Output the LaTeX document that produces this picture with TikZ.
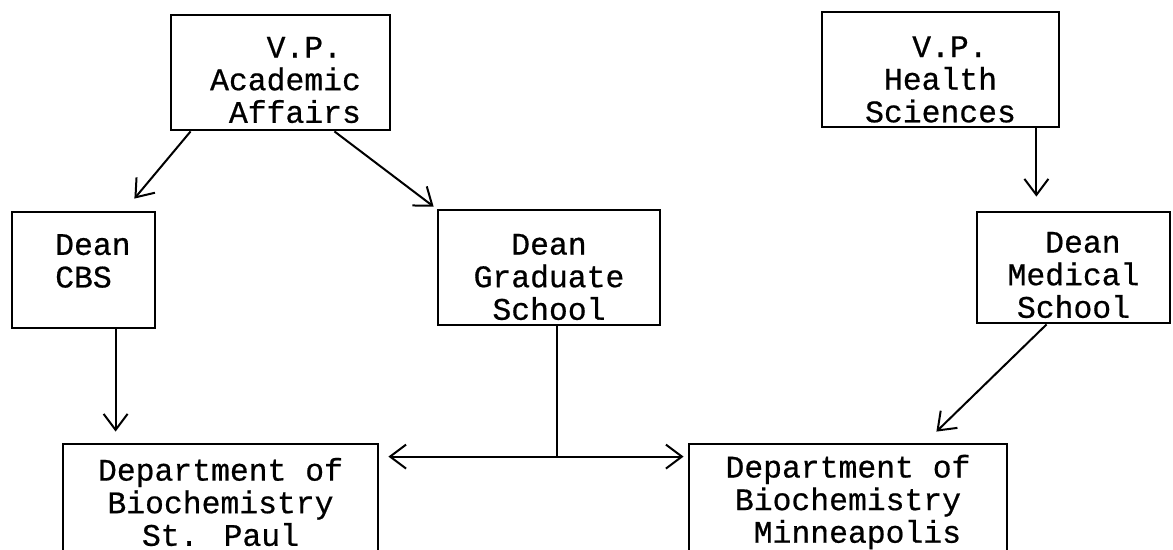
\documentclass[tikz,border=0pt]{standalone}
\usepackage{fontspec}
\newfontfamily\typefont[FakeBold=0.6]{Liberation Mono}
\usepackage{tikz}
\usetikzlibrary{arrows.meta,calc}

\begin{document}
\begin{tikzpicture}[x=0.5pt,y=-0.5pt,
  font=\typefont\fontsize{15.7}{16.3}\selectfont,
  box/.style={draw,line width=1.4pt,inner sep=0pt},
  tag/.style={align=center,inner sep=0pt},
  link/.style={line width=1pt,-{Straight Barb[length=8pt,width=12pt,line width=1pt]}}]
  \useasboundingbox (0,0) rectangle (1173,550);
  \clip (0,0) rectangle (1173,550);
  % vice presidents
  \node[box,minimum width=109.5pt,minimum height=57.5pt,
    label={[tag,xshift=2.5pt,yshift=-3.75pt]center:{~~V.P.\\Academic\\~Affairs}}]
    (vpa) at (280.5,72.5) {};
  \node[box,minimum width=118.5pt,minimum height=57.5pt,
    label={[tag,yshift=-5pt]center:{~V.P.\\Health\\Sciences}}]
    (vph) at (940.5,69.5) {};
  % deans
  \node[box,minimum width=71.5pt,minimum height=58pt,
    label={[tag,align=left,yshift=4.5pt]center:{~Dean\\~CBS}}]
    (cbs) at (83.5,270) {};
  \node[box,minimum width=111pt,minimum height=57.5pt,
    label={[tag,yshift=-4.75pt]center:{Dean\\Graduate\\School}}]
    (grad) at (549,267.5) {};
  \node[box,minimum width=96.5pt,minimum height=55.5pt,
    label={[tag,yshift=-3.75pt]center:{~Dean\\Medical\\School}}]
    (med) at (1073.5,267.5) {};
  % departments
  \node[box,minimum width=157.5pt,minimum height=58pt,
    label={[tag]center:{Department of\\Biochemistry\\St. Paul}}]
    (stp) at (220.5,502) {};
  \node[box,minimum width=159pt,minimum height=58pt,
    label={[tag]center:{Department of\\Biochemistry\\~Minneapolis}}]
    (mpls) at (848,502) {};
  % reporting lines
  \draw[link] ($(vpa.south west)+(21,0)$) -- ($(cbs.north east)+(-22,-12)$);
  \draw[link] ($(vpa.south east)+(-57,0)$) -- ($(grad.north west)+(-3,-2)$);
  \draw[link] ($(vph.south east)+(-24,0)$) -- ($(vph.south east |- med.north)+(-24,-14)$);
  \draw[link] ($(cbs.south west)+(105,0)$) -- ($(stp.north west)+(54,-11)$);
  \draw[link] ($(med.south west)+(71,0)$) -- ($(mpls.north east)+(-72,-11)$);
  % graduate school joins both departments
  \coordinate (jn) at ($(grad.south |- stp.north)+(8,14)$);
  \draw[line width=1pt] ($(grad.south)+(8,0)$) -- (jn);
  \draw[line width=1pt,{Straight Barb[length=8pt,width=12pt,line width=1pt]}-{Straight Barb[length=8pt,width=12pt,line width=1pt]}]
    ($(stp.north east)+(9,14)$) -- ($(mpls.north west)+(-4,14)$);
\end{tikzpicture}
\end{document}
